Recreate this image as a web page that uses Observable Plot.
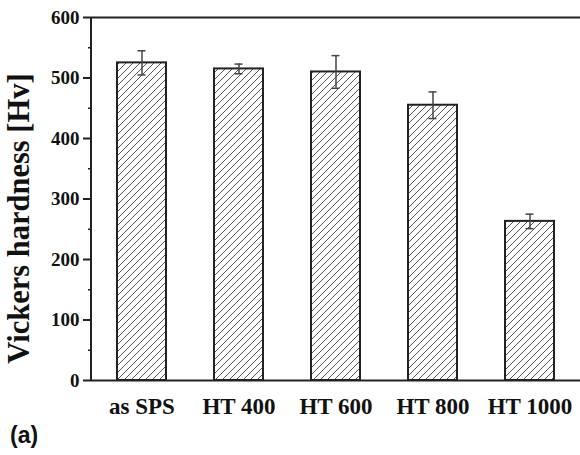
<!DOCTYPE html>
<html>
<head>
<meta charset="utf-8">
<script src="https://cdn.jsdelivr.net/npm/d3@7"></script>
<script src="https://cdn.jsdelivr.net/npm/@observablehq/plot@0.6"></script>
<style>
  html, body { margin: 0; padding: 0; background: white; }
  #chart svg text { font-family: "Liberation Serif", "Times New Roman", serif; font-weight: bold; }
  #caption { font-family: "Liberation Sans", Arial, sans-serif; font-weight: bold; font-size: 23px; line-height: 30px; padding-left: 10px; height: 35px; color: #111; }
</style>
</head>
<body>
<div id="chart"></div>
<div id="caption">(a)</div>
<script>
const categories = ["as SPS", "HT 400", "HT 600", "HT 800", "HT 1000"];
const hardness = [525, 515, 510, 455, 263];
const errors = [20, 8, 27, 22, 12];
const yTicks = [0, 100, 200, 300, 400, 500, 600];
const yMinorTicks = [50, 150, 250, 350, 450, 550];
const yTitle = "Vickers hardness [Hv]";

const data = categories.map((c, i) => ({cat: c, value: hardness[i], err: errors[i]}));
const serif = "Liberation Serif";

const leftAxisLine = (index, scales, values, dims) => {
  const g = d3.create("svg:g");
  g.append("line")
    .attr("x1", dims.marginLeft).attr("x2", dims.marginLeft)
    .attr("y1", scales.y(600)).attr("y2", scales.y(0))
    .attr("stroke", "#222").attr("stroke-width", 2);
  return g.node();
};

const plot = Plot.plot({
  width: 580,
  height: 420,
  marginLeft: 91,
  marginRight: 0,
  marginTop: 17,
  marginBottom: 40,
  style: {fontFamily: serif, fontWeight: "bold", background: "white", color: "#111"},
  x: {domain: categories, paddingInner: 0.5, paddingOuter: 0.25, axis: null},
  y: {domain: [0, 600], axis: null},
  marks: [
    Plot.barY(data, {x: "cat", y: "value", fill: "url(#hatch)", stroke: "#222", strokeWidth: 2}),
    Plot.ruleX(data, {x: "cat", y1: d => d.value - d.err, y2: d => d.value + d.err, stroke: "#444", strokeWidth: 1.5}),
    Plot.tickY(data, {x: "cat", y: d => d.value + d.err, insetLeft: 20.5, insetRight: 20.5, stroke: "#444", strokeWidth: 1.5}),
    Plot.tickY(data, {x: "cat", y: d => d.value - d.err, insetLeft: 20.5, insetRight: 20.5, stroke: "#444", strokeWidth: 1.5}),
    Plot.ruleY([0], {stroke: "#222", strokeWidth: 2}),
    Plot.ruleY([600], {stroke: "#222", strokeWidth: 2}),
    leftAxisLine,
    Plot.axisY(yTicks, {tickSize: 8, tickPadding: 4, strokeWidth: 2, fontSize: 19, fontWeight: "bold", fontFamily: serif, label: null, stroke: "#222"}),
    Plot.axisY(yMinorTicks, {tickSize: 3, tickFormat: () => "", strokeWidth: 1.5, label: null, stroke: "#222"}),
    Plot.axisX({tickSize: 0, tickPadding: 17, fontSize: 23, fontWeight: "bold", fontFamily: serif, label: null}),
    Plot.text([yTitle], {frameAnchor: "left", rotate: -90, dx: -72, dy: 19.5, fontSize: 30.5, fontWeight: "bold", fontFamily: serif, lineAnchor: "middle", textAnchor: "middle", fill: "#111"})
  ]
});

const defs = d3.select(plot).insert("defs", ":first-child");
const pat = defs.append("pattern")
  .attr("id", "hatch")
  .attr("patternUnits", "userSpaceOnUse")
  .attr("width", 7).attr("height", 7);
pat.append("rect").attr("width", 7).attr("height", 7).attr("fill", "white");
pat.append("path")
  .attr("d", "M-1,1 l2,-2 M0,7 l7,-7 M6,8 l2,-2")
  .attr("stroke", "#555").attr("stroke-width", 1);

document.getElementById("chart").append(plot);
</script>
</body>
</html>
